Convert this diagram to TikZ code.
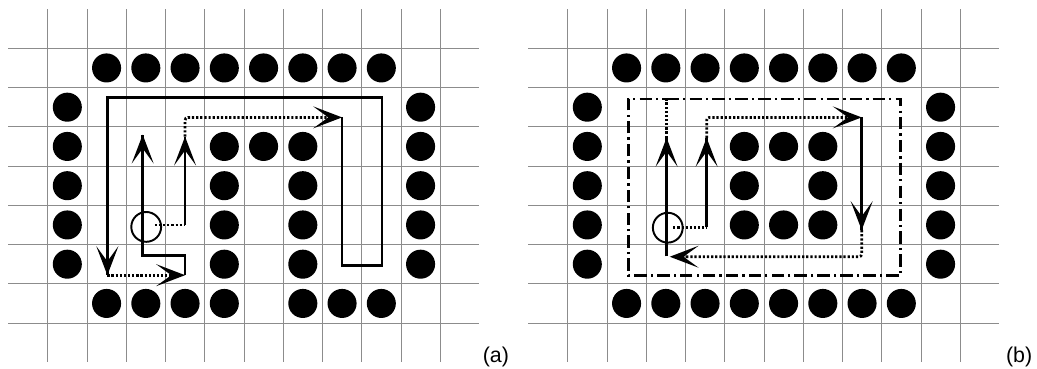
\documentclass[tikz,border=0pt]{standalone}
\usepackage{fontspec}
\setmainfont{Liberation Sans}
\usetikzlibrary{arrows.meta}
\tikzset{
  gridline/.style={draw=black!45, line width=0.5pt},
  dot/.style={circle, fill=black, inner sep=0pt, minimum size=0.74cm},
  robot/.style={circle, draw=black, line width=1.4pt, inner sep=0pt, minimum size=0.76cm},
  solidpath/.style={draw=black, line width=2pt, line cap=butt, line join=miter},
  dotpath/.style={draw=black, line width=2pt, dash pattern=on 1.6pt off 1.4pt, rounded corners=2pt},
  dashdotpath/.style={draw=black, line width=2pt, dash pattern=on 9pt off 3pt on 1.6pt off 3pt},
  headshort/.style={shorten >=8pt},
  arrowhead/.pic={\fill[black] (0pt,0pt) -- (-21pt,8pt) -- (-10pt,0pt) -- (-21pt,-8pt) -- cycle;},
  panellabel/.style={font=\fontsize{15.5}{18}\selectfont, inner sep=0pt}
}
\begin{document}
\begin{tikzpicture}
\useasboundingbox (0,0) rectangle (26.42,-9.401);

% ---------------- Panel (a) ----------------
\begin{scope}[xshift=1.215cm, yshift=-1.231cm, y={(0cm,-1cm)}]
  \foreach \i in {0,...,10} \draw[gridline] (\i,-1) -- (\i,8);
  \foreach \j in {0,...,7} \draw[gridline] (-1,\j) -- (11,\j);
  % obstacles
  \foreach \c in {1,...,8} \node[dot] (a-0-\c) at (\c+0.5,0.5) {};
  \foreach \r in {1,...,5} {
    \node[dot] (a-\r-0) at (0.5,\r+0.5) {};
    \node[dot] (a-\r-9) at (9.5,\r+0.5) {};
  }
  \foreach \c in {1,2,3,4,6,7,8} \node[dot] (a-6-\c) at (\c+0.5,6.5) {};
  \foreach \c in {4,5,6} \node[dot] (a-2-\c) at (\c+0.5,2.5) {};
  \foreach \r in {3,4,5} {
    \node[dot] (a-\r-4) at (4.5,\r+0.5) {};
    \node[dot] (a-\r-6) at (6.5,\r+0.5) {};
  }
  % robot
  \node[robot] (arob) at (2.51,4.55) {};
  % path points
  \coordinate (aA) at (7.5,1.76);
  \coordinate (aB) at (7.5,5.54);
  \coordinate (aC) at (8.52,5.54);
  \coordinate (aD) at (8.52,1.26);
  \coordinate (aE) at (1.52,1.26);
  \coordinate (aF) at (1.52,5.78);
  \coordinate (aG) at (3.5,5.78);
  \coordinate (aH) at (3.5,5.28);
  \coordinate (aI) at (2.42,5.28);
  \coordinate (aJ) at (2.42,2.2);
  \coordinate (aK) at (2.73,4.5);
  \coordinate (aL) at (3.5,4.5);
  \coordinate (aM) at (3.5,2.25);
  \coordinate (aN) at (3.5,1.76);
  \draw[solidpath] (aA) -- (aB) -- (aC) -- (aD) -- (aE) -- (aF);
  \draw[dotpath, headshort] (aF) -- (aG);
  \draw[solidpath] (aG) -- (aH) -- (aI) -- (aJ);
  \draw[dotpath] (aK) -- (aL);
  \draw[solidpath] (aL) -- (aM);
  \draw[dotpath, headshort] (aM) -- (aN) -- (aA);
  \pic[rotate=-90] at (aF) {arrowhead};
  \pic at (aG) {arrowhead};
  \pic[rotate=90] at (aJ) {arrowhead};
  \pic[rotate=90] at (aM) {arrowhead};
  \pic at (aA) {arrowhead};
  \node[panellabel] (labela) at (11.42,7.86) {(a)};
\end{scope}

% ---------------- Panel (b) ----------------
\begin{scope}[xshift=14.463cm, yshift=-1.231cm, y={(0cm,-1cm)}]
  \foreach \i in {0,...,10} \draw[gridline] (\i,-1) -- (\i,8);
  \foreach \j in {0,...,7} \draw[gridline] (-1,\j) -- (11,\j);
  % obstacles
  \foreach \c in {1,...,8} {
    \node[dot] (b-0-\c) at (\c+0.5,0.5) {};
    \node[dot] (b-6-\c) at (\c+0.5,6.5) {};
  }
  \foreach \r in {1,...,5} {
    \node[dot] (b-\r-0) at (0.5,\r+0.5) {};
    \node[dot] (b-\r-9) at (9.5,\r+0.5) {};
  }
  \foreach \c in {4,5,6} {
    \node[dot] (b-2-\c) at (\c+0.5,2.5) {};
    \node[dot] (b-4-\c) at (\c+0.5,4.5) {};
  }
  \node[dot] (b-3-4) at (4.5,3.5) {};
  \node[dot] (b-3-6) at (6.5,3.5) {};
  % robot
  \node[robot] (brob) at (2.55,4.57) {};
  % path points
  \coordinate (bR1) at (2.52,1.29);
  \coordinate (bR2) at (8.48,1.29);
  \coordinate (bR3) at (8.48,5.78);
  \coordinate (bR4) at (1.54,5.78);
  \coordinate (bR5) at (1.54,1.29);
  \coordinate (bS) at (2.52,5.3);
  \coordinate (bT) at (2.52,2.28);
  \coordinate (bU) at (2.69,4.56);
  \coordinate (bV) at (3.54,4.56);
  \coordinate (bW) at (3.54,2.28);
  \coordinate (bX) at (3.54,1.76);
  \coordinate (bY) at (7.49,1.76);
  \coordinate (bZ) at (7.49,4.63);
  \coordinate (bQ) at (7.49,5.31);
  \coordinate (bP) at (2.6,5.31);
  \draw[dashdotpath] (bR1) -- (bR2) -- (bR3) -- (bR4) -- (bR5) -- cycle;
  \draw[solidpath] (bS) -- (bT);
  \draw[dotpath] (bT) -- (bR1);
  \draw[dotpath] (bU) -- (bV);
  \draw[solidpath] (bV) -- (bW);
  \draw[dotpath, headshort] (bW) -- (bX) -- (bY);
  \draw[solidpath] (bY) -- (bZ);
  \draw[dotpath, headshort] (bZ) -- (bQ) -- (bP);
  \pic[rotate=90] at (bT) {arrowhead};
  \pic[rotate=90] at (bW) {arrowhead};
  \pic at (bY) {arrowhead};
  \pic[rotate=-90] at (bZ) {arrowhead};
  \pic[rotate=180] at (bP) {arrowhead};
  \node[panellabel] (labelb) at (11.5,7.86) {(b)};
\end{scope}
\end{tikzpicture}
\end{document}
